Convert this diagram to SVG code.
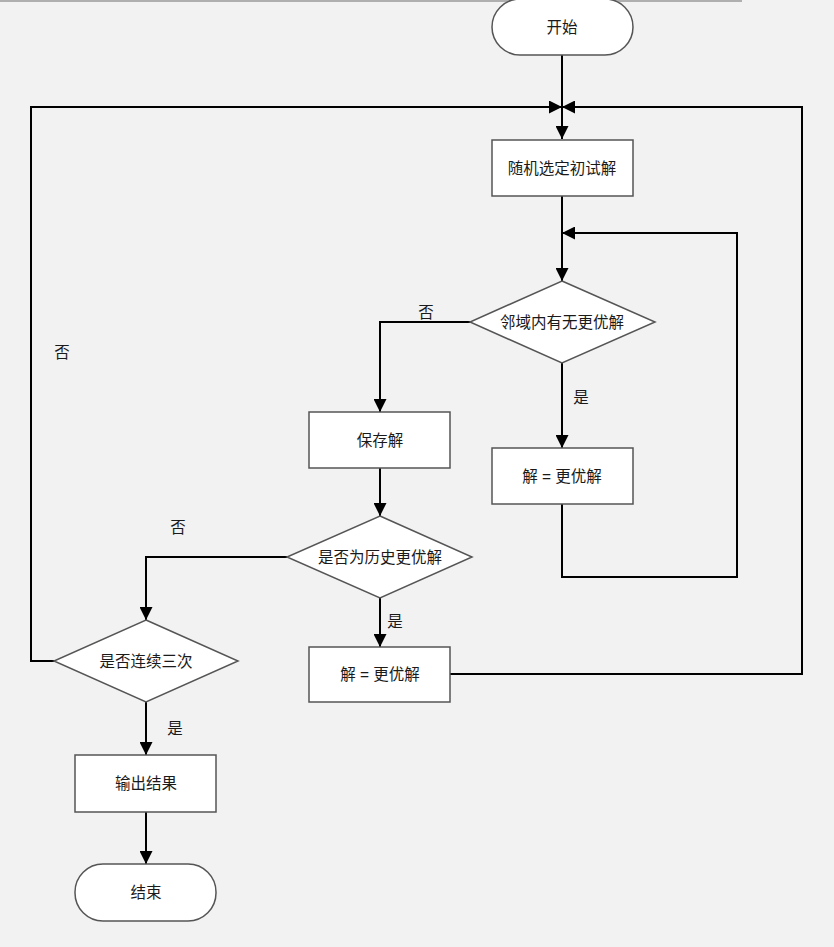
<svg xmlns="http://www.w3.org/2000/svg" width="834" height="947" viewBox="0 0 834 947">
<defs>
<marker id="arr" markerUnits="userSpaceOnUse" markerWidth="13" markerHeight="13" viewBox="0 0 13 13" refX="13" refY="6.5" orient="auto">
<path d="M0,0 L13,6.5 L0,13 Z" fill="#000"/>
</marker>
</defs>
<style>
.node{fill:#fff;stroke:#555;stroke-width:1.5}
.t{font-family:"Liberation Sans","Noto Sans CJK SC",sans-serif;font-size:15.5px;fill:#1a1a1a;text-anchor:middle;dominant-baseline:central}
.c{fill:none;stroke:#000;stroke-width:2}
.ca{fill:none;stroke:#000;stroke-width:2;marker-end:url(#arr)}
</style>
<rect x="0" y="0" width="834" height="947" fill="#f2f2f2"/>
<line x1="0" y1="1" x2="742" y2="1" stroke="#999" stroke-width="1.5"/>
<g id="connectors">
<path class="ca" d="M562,55 L562,139"/>
<path class="ca" d="M54,661 L31,661 L31,107 L562,107"/>
<path class="ca" d="M450,674 L802,674 L802,107 L562,107"/>
<path class="ca" d="M562,196 L562,281"/>
<path class="ca" d="M562,504 L562,577 L737,577 L737,233 L562,233"/>
<path class="ca" d="M470,322 L380,322 L380,412"/>
<path class="ca" d="M562,363 L562,448"/>
<path class="ca" d="M380,468 L380,516"/>
<path class="ca" d="M287,557 L146,557 L146,620"/>
<path class="ca" d="M380,598 L380,647"/>
<path class="ca" d="M146,702 L146,755"/>
<path class="ca" d="M146,812 L146,864"/>
<text class="t" x="426" y="312">否</text>
<text class="t" x="581" y="397">是</text>
<text class="t" x="178" y="527">否</text>
<text class="t" x="395" y="621">是</text>
<text class="t" x="62" y="352">否</text>
<text class="t" x="175" y="728">是</text>
</g>
<g id="start">
<rect class="node" x="492" y="-1" width="141" height="56" rx="28" ry="28"/>
<text class="t" x="562" y="27">开始</text>
</g>
<g id="init">
<rect class="node" x="492" y="140" width="141" height="56"/>
<text class="t" x="562" y="168">随机选定初试解</text>
</g>
<g id="neighbor">
<polygon class="node" points="562,281 655,322 562,363 470,322"/>
<text class="t" x="562" y="322">邻域内有无更优解</text>
</g>
<g id="better1">
<rect class="node" x="492" y="448" width="141" height="56"/>
<text class="t" x="562" y="476">解 = 更优解</text>
</g>
<g id="save">
<rect class="node" x="309" y="412" width="141" height="56"/>
<text class="t" x="380" y="440">保存解</text>
</g>
<g id="history">
<polygon class="node" points="380,516 472,557 380,598 287,557"/>
<text class="t" x="380" y="557">是否为历史更优解</text>
</g>
<g id="better2">
<rect class="node" x="309" y="647" width="141" height="55"/>
<text class="t" x="380" y="674">解 = 更优解</text>
</g>
<g id="three">
<polygon class="node" points="146,620 238,661 146,702 54,661"/>
<text class="t" x="146" y="661">是否连续三次</text>
</g>
<g id="output">
<rect class="node" x="75" y="755" width="141" height="57"/>
<text class="t" x="146" y="783">输出结果</text>
</g>
<g id="end">
<rect class="node" x="75" y="864" width="141" height="57" rx="28" ry="28"/>
<text class="t" x="146" y="892">结束</text>
</g>
</svg>
